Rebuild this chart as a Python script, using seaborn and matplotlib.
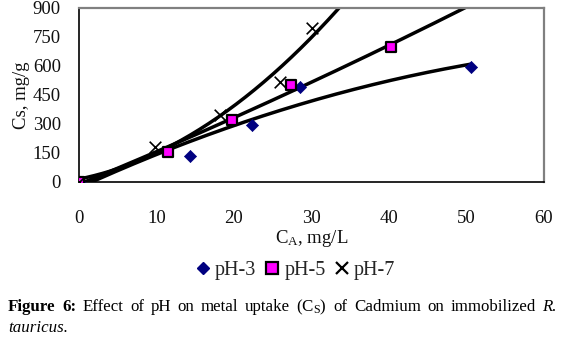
import numpy as np
import pandas as pd
import matplotlib
matplotlib.use("Agg")
import matplotlib.pyplot as plt
import seaborn as sns

# Data
ph3_x = [0, 14.4, 22.3, 28.6, 50.6]
ph3_y = [0, 134, 296, 492, 592]
ph5_x = [0, 11.5, 19.7, 27.4, 40.3]
ph5_y = [0, 155, 318, 503, 700]
ph7_x = [0, 9.8, 18.2, 25.9, 30.1]
ph7_y = [0, 180, 345, 518, 798]
series = ["pH-3", "pH-5", "pH-7"]
x_ticks = [0, 10, 20, 30, 40, 50, 60]
y_ticks = [0, 150, 300, 450, 600, 750, 900]

sns.set_theme(style="white")
plt.rcParams["font.family"] = ["Liberation Serif", "DejaVu Serif"]
plt.rcParams["mathtext.fontset"] = "custom"
plt.rcParams["mathtext.rm"] = "Liberation Serif"
plt.rcParams["mathtext.it"] = "Liberation Serif:italic"
plt.rcParams["mathtext.bf"] = "Liberation Serif:bold"

data = {"pH-3": (ph3_x, ph3_y), "pH-5": (ph5_x, ph5_y), "pH-7": (ph7_x, ph7_y)}

# polynomial (order 2) trend lines fitted to each series
fits = []
for name in series:
    xs, ys = data[name]
    c = np.polyfit(xs, ys, 2)
    gx = np.linspace(0, 50.6, 300)
    fits.append(pd.DataFrame({"CA": gx, "CS": np.polyval(c, gx), "pH": name}))
fits = pd.concat(fits, ignore_index=True)

fig = plt.figure(figsize=(5.63, 3.44), dpi=100)
ax = fig.add_axes([0.140, 0.471, 0.826, 0.506])

sns.lineplot(data=fits, x="CA", y="CS", units="pH", estimator=None,
             color="black", lw=2.5, ax=ax, legend=False, zorder=2)

styles = {
    "pH-3": dict(marker="D", s=38, color="#000080", edgecolor="#000080", linewidth=0.5),
    "pH-5": dict(marker="s", s=55, color="#FF00FF", edgecolor="black", linewidth=1.6),
    "pH-7": dict(marker="x", s=70, color="black", linewidth=1.2),
}
for name in series:
    xs, ys = data[name]
    sns.scatterplot(x=xs, y=ys, ax=ax, legend=False, zorder=3, **styles[name])

ax.set_xlim(0, 60)
ax.set_ylim(0, 900)
ax.set_xticks(x_ticks)
ax.set_yticks(y_ticks)
ax.tick_params(axis="both", which="both", direction="out", length=5, width=1,
               color="black", labelsize=13.5, labelcolor="#101010")
ax.tick_params(axis="x", pad=15)
ax.tick_params(axis="y", pad=8)
for s in ["left", "bottom"]:
    ax.spines[s].set_color("black")
    ax.spines[s].set_linewidth(1.2)
for s in ["top", "right"]:
    ax.spines[s].set_color("#808080")
    ax.spines[s].set_linewidth(1.6)
ax.set_xlabel("C$_\\mathregular{A}$, mg/L", fontsize=13.5, color="#101010", labelpad=1)
ax.set_ylabel("Cs, mg/g", fontsize=13.5, color="#101010", labelpad=2)

# legend
from matplotlib.lines import Line2D
handles = [
    Line2D([], [], ls="none", marker="D", ms=6.5, mfc="#000080", mec="#000080"),
    Line2D([], [], ls="none", marker="s", ms=8, mfc="#FF00FF", mec="black", mew=1.6),
    Line2D([], [], ls="none", marker="x", ms=8.5, color="black", mew=1.6),
]
fig.legend(handles, series, loc="center", bbox_to_anchor=(0.525, 0.215),
           ncol=3, frameon=False, fontsize=14.5, handlelength=0.7,
           handletextpad=0.25, columnspacing=0.45, borderpad=0)

# justified caption
words = [
    ("Figure", dict(fontweight="bold")),
    ("6:", dict(fontweight="bold")),
    ("Effect", {}), ("of", {}), ("pH", {}), ("on", {}), ("metal", {}),
    ("uptake", {}), ("(C$_\\mathregular{S}$)", {}), ("of", {}), ("Cadmium", {}),
    ("on", {}), ("immobilized", {}), ("R.", dict(fontstyle="italic")),
]
fs = 12.2
x0, x1 = 8 / 563, 557 / 563
texts = [fig.text(0, 0.096, w, fontsize=fs, ha="left", va="baseline",
                  color="black", **kw) for w, kw in words]
fig.canvas.draw()
r = fig.canvas.get_renderer()
W = fig.bbox.width
widths = [t.get_window_extent(r).width / W for t in texts]
gap = ((x1 - x0) - sum(widths)) / (len(words) - 1)
x = x0
for t, w in zip(texts, widths):
    t.set_x(x)
    x += w + gap
fig.text(x0, 0.035, "tauricus.", fontsize=fs, fontstyle="italic",
         ha="left", va="baseline", color="black")

fig.savefig("out.png", dpi=100)
